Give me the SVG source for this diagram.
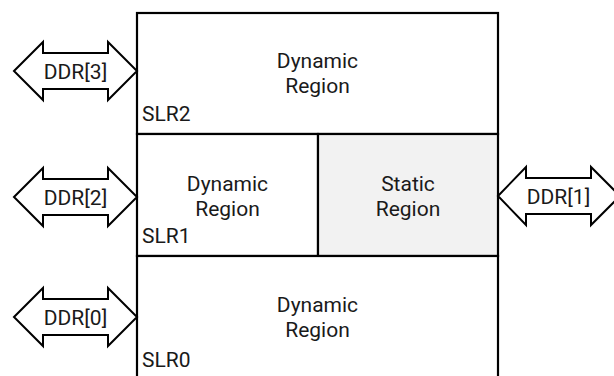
<svg xmlns="http://www.w3.org/2000/svg" width="614" height="376" viewBox="0 0 614 376">
  <defs>
    <style>
      text { font-family: Roboto, "Liberation Sans", sans-serif; font-size: 21px; fill: #1a1a1a; }
      .c { text-anchor: middle; }
      .box { fill: #ffffff; stroke: #000000; stroke-width: 2.2; }
      .static { fill: #f2f2f2; stroke: #000000; stroke-width: 2.2; }
      .arrow { fill: #ffffff; stroke: #000000; stroke-width: 2; stroke-linejoin: miter; }
    </style>
    <path id="dbl" d="M 0 0 L 29 -29 L 29 -18 L 94 -18 L 94 -29 L 123 0 L 94 29 L 94 18 L 29 18 L 29 29 Z"/>
  </defs>

  <g id="slr2">
    <rect class="box" x="137" y="13" width="361" height="121"/>
    <text class="c" x="317.5" y="68">Dynamic</text>
    <text class="c" x="317.5" y="93">Region</text>
    <text x="142" y="121">SLR2</text>
  </g>

  <g id="slr1">
    <rect class="box" x="137" y="134" width="181" height="122"/>
    <text class="c" x="227.5" y="191">Dynamic</text>
    <text class="c" x="227.5" y="216">Region</text>
    <text x="142" y="243">SLR1</text>
  </g>

  <g id="static">
    <rect class="static" x="318" y="134" width="180" height="122"/>
    <text class="c" x="408" y="191">Static</text>
    <text class="c" x="408" y="216">Region</text>
  </g>

  <g id="slr0">
    <rect class="box" x="137" y="256" width="361" height="124"/>
    <text class="c" x="317.5" y="312">Dynamic</text>
    <text class="c" x="317.5" y="337">Region</text>
    <text x="142" y="367">SLR0</text>
  </g>

  <g id="connectors">
    <g id="ddr3">
      <use href="#dbl" class="arrow" transform="translate(14,71)"/>
      <text class="c" x="75.5" y="78.5">DDR[3]</text>
    </g>
    <g id="ddr2">
      <use href="#dbl" class="arrow" transform="translate(14,197)"/>
      <text class="c" x="75.5" y="204.5">DDR[2]</text>
    </g>
    <g id="ddr0">
      <use href="#dbl" class="arrow" transform="translate(14,317)"/>
      <text class="c" x="75.5" y="324.5">DDR[0]</text>
    </g>
    <g id="ddr1">
      <path class="arrow" d="M 498 196 L 526 167 L 526 178 L 591 178 L 591 167 L 620 196 L 591 225 L 591 214 L 526 214 L 526 225 Z"/>
      <text class="c" x="558.5" y="203.5">DDR[1]</text>
    </g>
  </g>
</svg>
